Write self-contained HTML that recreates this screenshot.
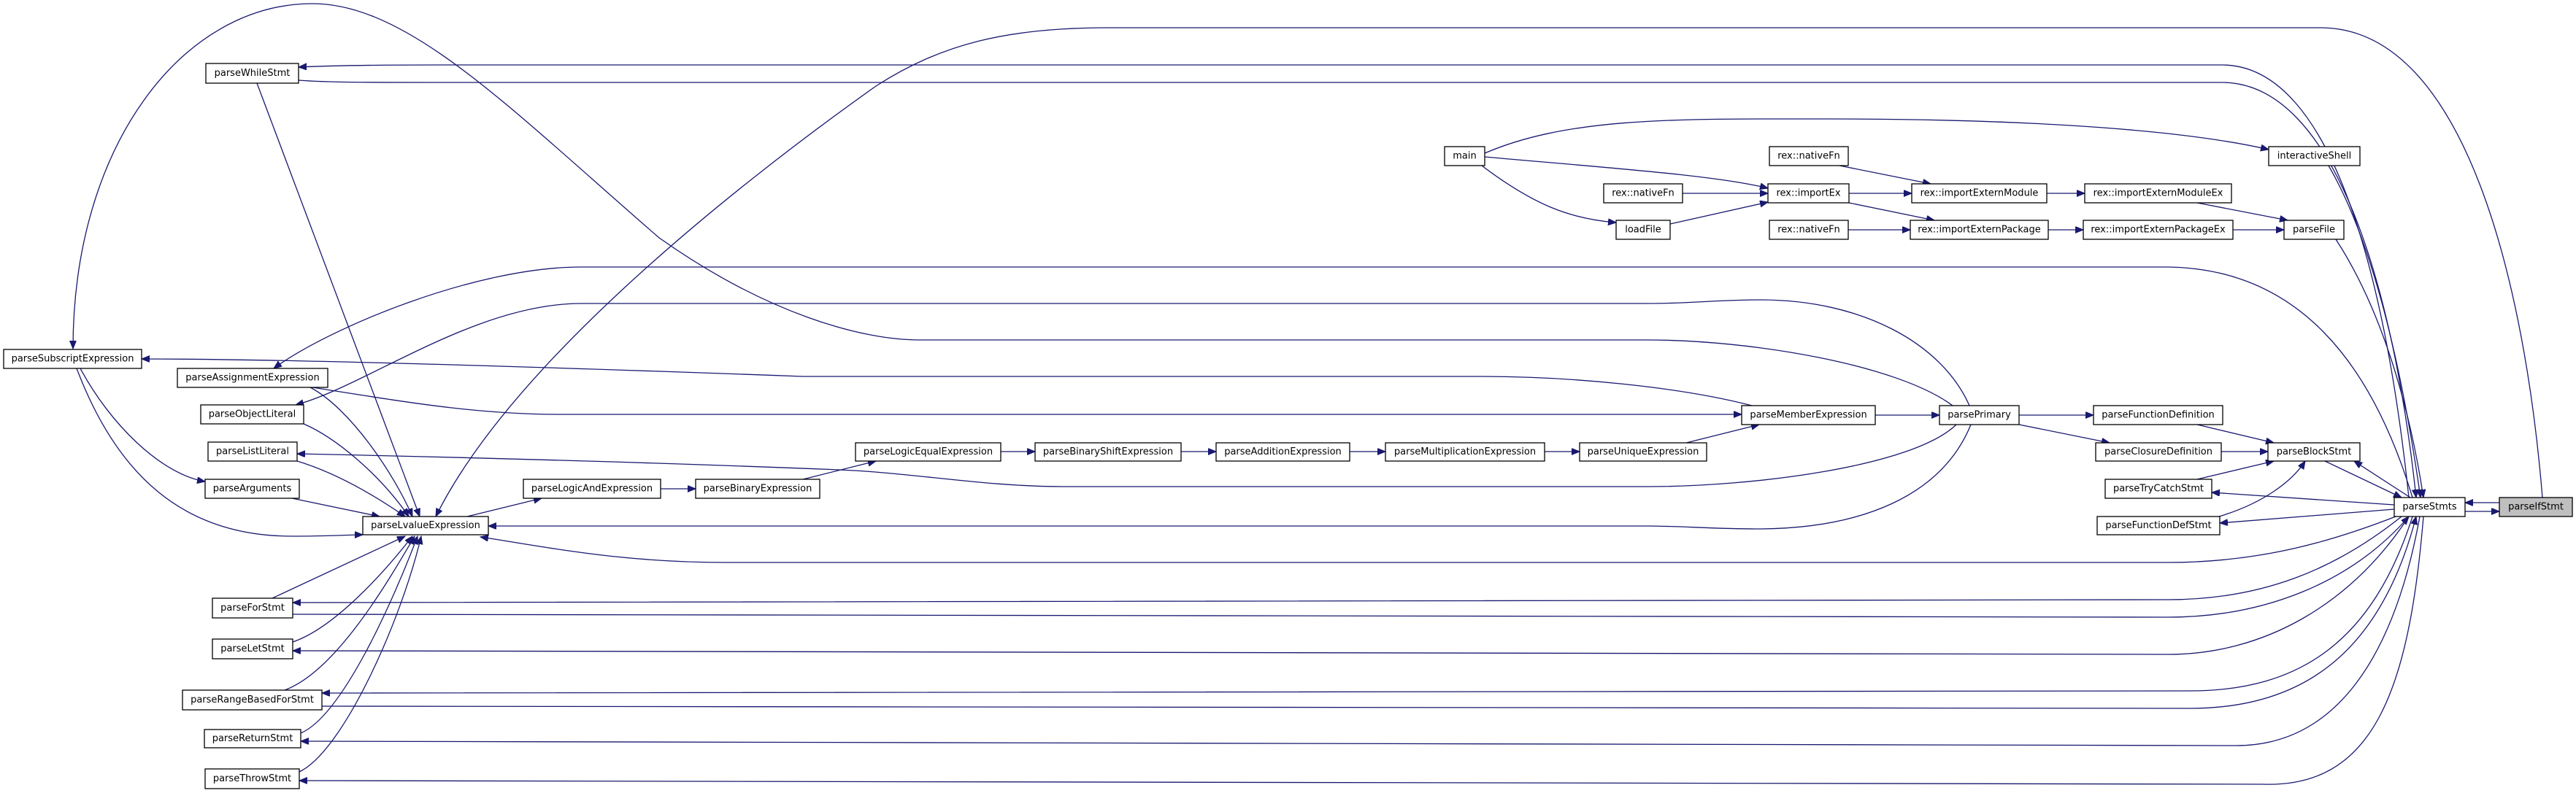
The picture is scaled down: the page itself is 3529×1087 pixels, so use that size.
<!DOCTYPE html>
<html><head><meta charset="utf-8"><style>
html,body{margin:0;padding:0;background:#fff;}
svg{display:block;}
.n rect{fill:#fff;stroke:#000;stroke-width:1.3;}
.n text{font-family:"DejaVu Sans","Liberation Sans",sans-serif;font-size:13px;fill:#000;text-anchor:middle;dominant-baseline:central;}
.e{fill:none;stroke:#191970;stroke-width:1.3;marker-end:url(#ah);}
.f{fill:none;stroke:#191970;stroke-width:1.3;}
</style></head><body>
<svg width="3529" height="1087" viewBox="0 0 3529 1087" xmlns="http://www.w3.org/2000/svg">
<defs><marker id="ah" markerUnits="userSpaceOnUse" markerWidth="12" markerHeight="10" refX="11" refY="4.5" orient="auto"><path d="M0,0 L11,4.5 L0,9 z" fill="#191970" stroke="#191970"/></marker></defs>

<!-- edges -->
<path class="e" d="M3377,701 L3424,701"/>
<path class="e" d="M3424,689 L3377,689"/>
<path class="e" d="M3483,682 C3460,400 3380,38 3179,38 L1518,38 C1380,38 1290,60 1200,118 C1000,260 700,500 597,708"/>
<path class="e" d="M3300,682 C3270,400 3200,89 3044,89 L600,89 C500,89 450,90 409,92"/>
<path class="e" d="M409,110 C450,113 500,113 600,113 L3044,113 C3200,113 3280,400 3310,682"/>
<path class="e" d="M2034,210 C2150,160 2300,163 2500,163 C2800,163 3000,180 3108,205"/>
<path class="e" d="M2034,215 C2200,230 2350,240 2422,258"/>
<path class="e" d="M2030,227 C2100,280 2150,300 2214,305"/>
<path class="e" d="M2520,227 L2645,252"/>
<path class="e" d="M2305,265 L2422,265"/>
<path class="e" d="M2288,307 L2422,277"/>
<path class="e" d="M2533,265 L2619,265"/>
<path class="e" d="M2533,278 L2650,302"/>
<path class="e" d="M2532,315 L2617,315"/>
<path class="e" d="M2804,265 L2856,265"/>
<path class="e" d="M2806,315 L2854,315"/>
<path class="e" d="M3010,278 L3134,302"/>
<path class="e" d="M3059,315 L3129,315"/>
<path class="e" d="M3190,227 C3250,330 3290,500 3316,682"/>
<path class="e" d="M3200,328 C3260,420 3300,550 3320,682"/>
<path class="e" d="M3305,682 C3250,500 3150,366 2965,366 L796,366 C650,366 450,450 375,505"/>
<path class="e" d="M2698,556 C2660,470 2550,411 2412,411 C2350,411 2320,416 2257,416 L796,416 C650,416 500,530 405,555"/>
<path class="e" d="M2675,556 C2600,500 2400,466 2257,466 L1260,466 C1180,466 1050,430 903,326 C700,150 560,5 428,5 C250,5 100,200 100,478"/>
<path class="e" d="M2400,556 C2300,530 2150,516 2030,516 L1100,516 C800,505 400,492 194,492"/>
<path class="e" d="M428,531 C550,550 650,568 765,568 L2386,568"/>
<path class="e" d="M2569,569 L2657,569"/>
<path class="e" d="M2310,607 L2410,582"/>
<path class="e" d="M1371,619 L1418,619"/>
<path class="e" d="M1618,619 L1666,619"/>
<path class="e" d="M1849,619 L1898,619"/>
<path class="e" d="M2116,619 L2164,619"/>
<path class="e" d="M1100,657 L1200,632"/>
<path class="e" d="M905,670 L953,670"/>
<path class="e" d="M640,708 L742,683"/>
<path class="e" d="M2680,582 C2620,640 2400,667 2257,667 L1456,667 C1350,667 1250,648 1150,644 C800,630 500,624 407,622"/>
<path class="e" d="M2700,582 C2660,680 2550,725 2406,725 C2350,725 2300,721 2257,721 L669,721"/>
<path class="e" d="M3282,708 C3200,740 3100,771 2970,771 L995,771 C850,771 750,750 658,736"/>
<path class="e" d="M2766,569 L2868,569"/>
<path class="e" d="M2766,582 L2890,607"/>
<path class="e" d="M3010,582 L3115,607"/>
<path class="e" d="M3043,619 L3107,619"/>
<path class="e" d="M3010,657 L3115,632"/>
<path class="e" d="M3040,708 C3100,690 3140,660 3158,632"/>
<path class="e" d="M3185,632 L3290,682"/>
<path class="e" d="M3302,682 L3225,632"/>
<path class="e" d="M3280,692 L3030,675"/>
<path class="e" d="M3280,698 L3041,717"/>
<path class="e" d="M3290,708 C3200,780 3100,822 2970,822 L401,826"/>
<path class="e" d="M401,842 L2970,846 C3100,846 3220,800 3300,708"/>
<path class="e" d="M3300,708 C3220,830 3100,897 2970,897 L401,892"/>
<path class="e" d="M3305,708 C3250,880 3150,947 3000,947 L441,950"/>
<path class="e" d="M441,968 L3000,971 C3150,971 3260,900 3310,708"/>
<path class="e" d="M3315,708 C3280,900 3200,1024 3060,1022 L412,1016"/>
<path class="e" d="M3320,708 C3300,950 3250,1080 3100,1075 L410,1070"/>
<path class="e" d="M105,505 C160,650 250,735 400,735 C450,735 480,733 497,733"/>
<path class="e" d="M110,505 C150,580 220,650 281,660"/>
<path class="e" d="M400,683 L520,708"/>
<path class="e" d="M425,531 C480,560 540,650 565,708"/>
<path class="e" d="M416,581 C460,600 520,650 560,708"/>
<path class="e" d="M407,632 C450,645 500,670 555,708"/>
<path class="e" d="M352,114 L575,708"/>
<path class="e" d="M373,820 L555,735"/>
<path class="e" d="M401,880 C460,860 530,780 565,735"/>
<path class="e" d="M390,946 C460,920 530,800 568,735"/>
<path class="e" d="M412,1005 C470,980 540,820 572,735"/>
<path class="e" d="M410,1058 C470,1030 550,850 577,735"/>

<!-- nodes -->
<g class="n"><rect x="282" y="87" width="127" height="27"/><text x="345.5" y="100.5">parseWhileStmt</text></g>
<g class="n"><rect x="5" y="479" width="189" height="26"/><text x="99.5" y="492">parseSubscriptExpression</text></g>
<g class="n"><rect x="243" y="505" width="206" height="26"/><text x="346" y="518">parseAssignmentExpression</text></g>
<g class="n"><rect x="275" y="555" width="141" height="26"/><text x="345.5" y="568">parseObjectLiteral</text></g>
<g class="n"><rect x="285" y="606" width="122" height="26"/><text x="346" y="619">parseListLiteral</text></g>
<g class="n"><rect x="281" y="657" width="129" height="26"/><text x="345.5" y="670">parseArguments</text></g>
<g class="n"><rect x="497" y="708" width="172" height="25"/><text x="583" y="720.5">parseLvalueExpression</text></g>
<g class="n"><rect x="717" y="657" width="188" height="26"/><text x="811" y="670">parseLogicAndExpression</text></g>
<g class="n"><rect x="953" y="657" width="170" height="26"/><text x="1038" y="670">parseBinaryExpression</text></g>
<g class="n"><rect x="291" y="820" width="110" height="27"/><text x="346" y="833.5">parseForStmt</text></g>
<g class="n"><rect x="291" y="876" width="110" height="27"/><text x="346" y="889.5">parseLetStmt</text></g>
<g class="n"><rect x="250" y="946" width="191" height="27"/><text x="345.5" y="959.5">parseRangeBasedForStmt</text></g>
<g class="n"><rect x="280" y="1000" width="132" height="25"/><text x="346" y="1012.5">parseReturnStmt</text></g>
<g class="n"><rect x="281" y="1054" width="129" height="27"/><text x="345.5" y="1067.5">parseThrowStmt</text></g>
<g class="n"><rect x="1979" y="201" width="55" height="26"/><text x="2006.5" y="214">main</text></g>
<g class="n"><rect x="2424" y="201" width="108" height="26"/><text x="2478" y="214">rex::nativeFn</text></g>
<g class="n"><rect x="3108" y="201" width="125" height="26"/><text x="3170.5" y="214">interactiveShell</text></g>
<g class="n"><rect x="2197" y="252" width="108" height="26"/><text x="2251" y="265">rex::nativeFn</text></g>
<g class="n"><rect x="2422" y="252" width="111" height="26"/><text x="2477.5" y="265">rex::importEx</text></g>
<g class="n"><rect x="2619" y="252" width="185" height="26"/><text x="2711.5" y="265">rex::importExternModule</text></g>
<g class="n"><rect x="2856" y="252" width="201" height="26"/><text x="2956.5" y="265">rex::importExternModuleEx</text></g>
<g class="n"><rect x="2214" y="302" width="74" height="26"/><text x="2251" y="315">loadFile</text></g>
<g class="n"><rect x="2424" y="302" width="108" height="26"/><text x="2478" y="315">rex::nativeFn</text></g>
<g class="n"><rect x="2617" y="302" width="189" height="26"/><text x="2711.5" y="315">rex::importExternPackage</text></g>
<g class="n"><rect x="2854" y="302" width="205" height="26"/><text x="2956.5" y="315">rex::importExternPackageEx</text></g>
<g class="n"><rect x="3129" y="302" width="82" height="26"/><text x="3170" y="315">parseFile</text></g>
<g class="n"><rect x="1172" y="607" width="199" height="25"/><text x="1271.5" y="619.5">parseLogicEqualExpression</text></g>
<g class="n"><rect x="1418" y="607" width="200" height="25"/><text x="1518" y="619.5">parseBinaryShiftExpression</text></g>
<g class="n"><rect x="1666" y="607" width="183" height="25"/><text x="1757.5" y="619.5">parseAdditionExpression</text></g>
<g class="n"><rect x="1898" y="607" width="218" height="25"/><text x="2007" y="619.5">parseMultiplicationExpression</text></g>
<g class="n"><rect x="2164" y="607" width="174" height="25"/><text x="2251" y="619.5">parseUniqueExpression</text></g>
<g class="n"><rect x="2386" y="556" width="183" height="26"/><text x="2477.5" y="569">parseMemberExpression</text></g>
<g class="n"><rect x="2657" y="556" width="109" height="26"/><text x="2711.5" y="569">parsePrimary</text></g>
<g class="n"><rect x="2868" y="556" width="177" height="26"/><text x="2956.5" y="569">parseFunctionDefinition</text></g>
<g class="n"><rect x="2871" y="607" width="172" height="25"/><text x="2957" y="619.5">parseClosureDefinition</text></g>
<g class="n"><rect x="3107" y="607" width="126" height="25"/><text x="3170" y="619.5">parseBlockStmt</text></g>
<g class="n"><rect x="2884" y="657" width="146" height="26"/><text x="2957" y="670">parseTryCatchStmt</text></g>
<g class="n"><rect x="3280" y="682" width="97" height="26"/><text x="3328.5" y="695">parseStmts</text></g>
<g class="n"><rect x="3424" y="682" width="100" height="26" style="fill:#bfbfbf"/><text x="3474" y="695">parseIfStmt</text></g>
<g class="n"><rect x="2873" y="708" width="168" height="25"/><text x="2957" y="720.5">parseFunctionDefStmt</text></g>
</svg>
</body></html>
